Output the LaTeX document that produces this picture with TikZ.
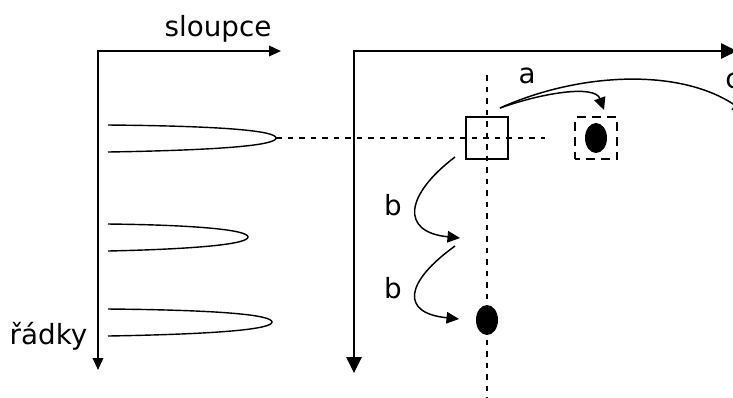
\documentclass[tikz,border=0pt]{standalone}
\usepackage{fontspec}
\setmainfont{DejaVu Sans}
\usepackage{tikz}
\usetikzlibrary{positioning,arrows.meta,shapes.geometric}
\tikzset{
  axis/.style={<->,>={Triangle[length=1.2mm,width=1.05mm]},line width=0.55pt},
  axisbig/.style={<->,>={Triangle[length=1.6mm,width=1.5mm]},line width=0.75pt},
  guide/.style={dash pattern=on 0.55mm off 0.6mm,line width=0.4pt},
  lobe/.style={line width=0.4pt},
  move/.style={-{Triangle[length=1.25mm,width=1.15mm]},line width=0.42pt},
  cell/.style={rectangle,draw,line width=0.45pt,minimum size=4.2mm,inner sep=0pt},
  cand/.style={rectangle,draw,dash pattern=on 0.9mm off 0.6mm,dash phase=0.45mm,line width=0.4pt,minimum size=4.2mm,inner sep=0pt},
  blob/.style={ellipse,fill=black,minimum width=2.2mm,minimum height=3mm,inner sep=0pt},
  tag/.style={font=\fontsize{7.9}{9}\selectfont,inner sep=0pt,anchor=base}
}
\begin{document}
\begin{tikzpicture}[x=0.1mm,y=-0.1mm]
\useasboundingbox (0,0) rectangle (733,397);
\clip (0,0) rectangle (733,397);
\coordinate (oL) at (98,51); \coordinate (xL) at (281,51); \coordinate (yL) at (98,370);
\coordinate (oR) at (354,51); \coordinate (xR) at (737,51); \coordinate (yR) at (354,373);
\draw[axis] (xL) -- (oL) -- (yL);
\draw[axisbig] (xR) -- (oR) -- (yR);
\foreach \i/\y/\tip in {1/138/276,2/237/248,3/322/272}{
  \draw[lobe] (108,\y-13) .. controls (\tip-50,\y-12) and (\tip,\y-7) .. (\tip,\y) coordinate (peak\i)
    .. controls (\tip,\y+7) and (\tip-50,\y+12) .. (108,\y+14);
}
\coordinate (hEnd) at (545,138);
\coordinate (vTop) at (487,75); \coordinate (vBot) at (487,400);
\draw[guide] (peak1) -- (hEnd);
\draw[guide] (vTop) -- (vBot);
\node[cell] (cur) at (487,138) {};
\node[cand] (tgt) at (596,138) {};
\node[blob] (dotR) at (tgt) {};
\node[blob] (dotB) at (487,320) {};
\coordinate (src) at (500,108); \coordinate (aEnd) at (604,110); \coordinate (cEnd) at (745,112);
\coordinate (b1s) at (455,157); \coordinate (b1e) at (460,238);
\coordinate (b2s) at (455,246); \coordinate (b2e) at (459,319);
\draw[move] (src) .. controls (545,92) and (595,85) .. (aEnd);
\draw[move] (src) .. controls (580,72) and (680,68) .. (cEnd);
\draw[move] (b1s) .. controls (405,195) and (400,232) .. (b1e);
\draw[move] (b2s) .. controls (405,282) and (400,313) .. (b2e);
\node[tag] (sl) at (218,36) {sloupce};
\node[tag,anchor=base east] (rd) at (88,344) {řádky};
\node[tag] (la) at (527,83) {a};
\node[tag] (lb1) at (393,215) {b};
\node[tag] (lb2) at (393,298) {b};
\node[tag] (lc) at (733,88) {c};
\end{tikzpicture}
\end{document}
